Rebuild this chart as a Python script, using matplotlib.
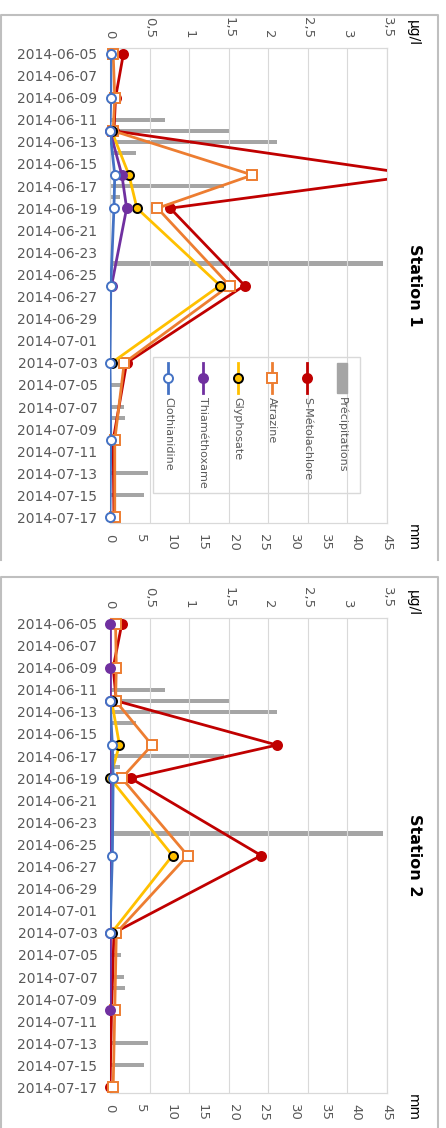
import matplotlib.pyplot as plt
import matplotlib.dates as mdates
from matplotlib.lines import Line2D
from matplotlib.patches import Rectangle
import numpy as np
import pandas as pd

nan = np.nan

sample_dates = ['2014-06-05', '2014-06-09', '2014-06-12', '2014-06-16', '2014-06-19',
                '2014-06-26', '2014-07-03', '2014-07-10', '2014-07-17']

# station 1, µg/l
clothianidine_1 = [0.01, 0.01, 0.0, 0.06, 0.05, 0.01, 0.0, 0.01, 0.0]
thiamethoxame_1 = [nan, nan, 0.0, 0.15, 0.21, 0.02, nan, nan, nan]
glyphosate_1 = [nan, nan, 0.02, 0.24, 0.34, 1.39, 0.02, nan, nan]
atrazine_1 = [0.04, 0.06, 0.04, 1.80, 0.60, 1.51, 0.18, 0.06, 0.06]
metolachlore_1 = [0.17, 0.07, 0.05, 3.90, 0.76, 1.70, 0.21, 0.04, 0.05]

# station 2, µg/l
clothianidine_2 = [nan, nan, 0.0, 0.03, 0.04, 0.03, 0.0, nan, nan]
thiamethoxame_2 = [0.0, 0.0, 0.0, nan, nan, nan, 0.0, 0.0, nan]
glyphosate_2 = [nan, nan, 0.02, 0.12, 0.0, 0.79, 0.02, nan, nan]
atrazine_2 = [0.07, 0.08, 0.07, 0.53, 0.15, 0.98, 0.08, 0.06, 0.04]
metolachlore_2 = [0.15, 0.04, 0.08, 2.11, 0.26, 1.91, 0.05, 0.02, 0.0]

# rainfall, mm
precip_dates = ['2014-06-11', '2014-06-12', '2014-06-13', '2014-06-14', '2014-06-17',
                '2014-06-18', '2014-06-24', '2014-07-05', '2014-07-07', '2014-07-08',
                '2014-07-13', '2014-07-15']
precip_mm = [8.9, 19.5, 27.1, 4.2, 18.5, 1.6, 44.3, 1.8, 2.2, 2.4, 6.1, 5.5]

ug_ticks = [0, 0.5, 1, 1.5, 2, 2.5, 3, 3.5]
mm_ticks = [0, 5, 10, 15, 20, 25, 30, 35, 40, 45]

# drawing order: first is at the back
names = ['S-Métolachlore', 'Atrazine', 'Glyphosate', 'Thiaméthoxame', 'Clothianidine']
colors = ['#C00000', '#ED7D31', '#FFC000', '#7030A0', '#4472C4']
markers = ['o', 's', 'o', 'o', 'o']
faces = ['#C00000', 'white', '#FFC000', '#7030A0', 'white']
edges = ['#C00000', '#ED7D31', 'black', '#7030A0', '#4472C4']
bar_color = '#A5A5A5'
grid_color = '#D9D9D9'
tick_color = '#595959'

W, H = 446, 1128
fig = plt.figure(figsize=(W / 100, H / 100), dpi=100)


def fx(px):
    return px / W


def fy(py):
    return 1 - py / H


dates = pd.to_datetime(sample_dates)
pdates = pd.to_datetime(precip_dates)
day_ticks = pd.date_range('2014-06-05', '2014-07-17', freq='2D')


def station(top, series, title, top_box, with_legend):
    ax = fig.add_axes([fx(110), fy(top + 475), fx(277), 475 / H])
    ax.barh(pdates, precip_mm, height=0.38, color=bar_color, zorder=1)
    ax.set_xlim(0, 45)
    ax.set_xticks(mm_ticks)
    ax.set_xticklabels([str(t) for t in mm_ticks], rotation=-90, fontsize=9.5,
                       color=tick_color)
    ax.set_ylim(pd.Timestamp('2014-07-17 12:00'), pd.Timestamp('2014-06-04 12:00'))
    ax.set_yticks(day_ticks)
    ax.yaxis.set_major_formatter(mdates.DateFormatter('%Y-%m-%d'))
    ax.tick_params(axis='y', length=0, pad=9, labelsize=10, labelcolor=tick_color)
    ax.tick_params(axis='x', length=0, pad=8)

    ax2 = ax.twiny()
    ax2.set_xlim(0, 3.5)
    ax2.set_xticks(ug_ticks)
    ax2.set_xticklabels([str(t).replace('.', ',') if t % 1 else str(int(t)) for t in ug_ticks],
                        rotation=-90, fontsize=9.5, color=tick_color)
    ax2.tick_params(axis='x', length=0, pad=7)
    ax2.grid(axis='x', color=grid_color, lw=0.8)
    ax2.set_axisbelow(True)
    for a in (ax, ax2):
        for s in a.spines.values():
            s.set_color(grid_color)
            s.set_linewidth(0.8)

    for vals, c, m, fc, ec in zip(series, colors, markers, faces, edges):
        vals = np.array(vals, dtype=float)
        ok = ~np.isnan(vals)
        ax2.plot(vals[ok], dates[ok], color=c, lw=2, zorder=3)
        # markers may sit on the axis line, so they are not clipped
        inside = ok & (vals <= 3.5)
        ax2.plot(vals[inside], dates[inside], ls='none', marker=m, markersize=6.5,
                 markerfacecolor=fc, markeredgecolor=ec, markeredgewidth=1.4,
                 zorder=3, clip_on=False)

    fig.text(fx(415), fy(top + 237), title, rotation=-90, ha='center', va='center',
             fontsize=11.5, fontweight='bold')
    fig.text(fx(413), fy(top - 15), 'µg/l', rotation=-90, ha='center', va='center',
             fontsize=10)
    fig.text(fx(413), fy(top + 489), 'mm', rotation=-90, ha='center', va='center',
             fontsize=10)

    # frame of the chart
    bottom = top_box[1]
    fig.add_artist(Line2D([fx(1), fx(1), fx(437.5), fx(437.5)],
                          [fy(bottom), fy(top_box[0]), fy(top_box[0]), fy(bottom)],
                          color='#BFBFBF', lw=1.5, transform=fig.transFigure))

    if with_legend:
        fig.add_artist(Rectangle((fx(153), fy(493)), fx(207), 136 / H, fill=False,
                                 edgecolor=grid_color, lw=1, transform=fig.transFigure))
        entries = list(zip(names, colors, markers, faces, edges))[::-1]
        for i, (n, c, m, fc, ec) in enumerate(entries):
            x = fx(168 + 34.8 * i)
            fig.add_artist(Line2D([x, x, x], [fy(363), fy(378), fy(393)], color=c, lw=2,
                                  marker=m, markevery=[1], markersize=6.5,
                                  markerfacecolor=fc, markeredgecolor=ec,
                                  markeredgewidth=1.4, transform=fig.transFigure))
            fig.text(x, fy(397), n, rotation=-90, ha='center', va='top', fontsize=8,
                     color=tick_color)
        x = fx(168 + 34.8 * 5)
        fig.add_artist(Rectangle((x - fx(5), fy(393)), fx(10), 30 / H, color=bar_color,
                                 transform=fig.transFigure))
        fig.text(x, fy(397), 'Précipitations', rotation=-90, ha='center', va='top',
                 fontsize=8, color=tick_color)


station(48, [metolachlore_1, atrazine_1, glyphosate_1, thiamethoxame_1, clothianidine_1],
        'Station 1', (15, 560), True)
station(618, [metolachlore_2, atrazine_2, glyphosate_2, thiamethoxame_2, clothianidine_2],
        'Station 2', (577, 1128), False)

fig.savefig('out.png', dpi=100)
